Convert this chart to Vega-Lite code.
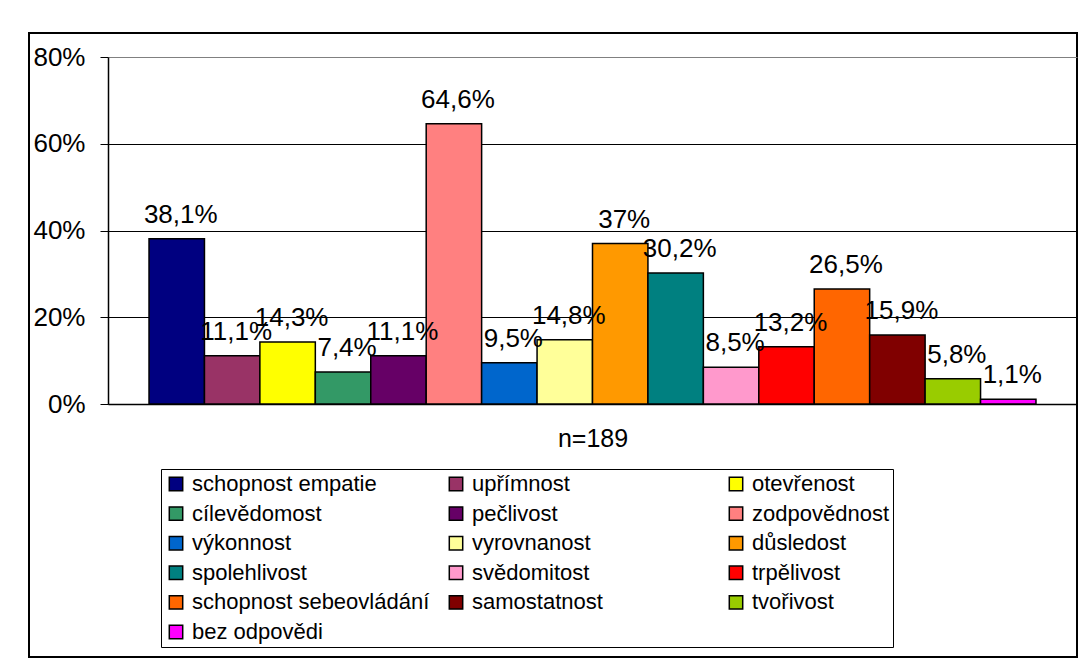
{
  "$schema": "https://vega.github.io/schema/vega-lite/v6.json",
  "width": 1048,
  "height": 624,
  "autosize": {"type": "none"},
  "padding": {"left": 29, "top": 33, "right": 7, "bottom": 14},
  "background": "white",
  "config": {
    "locale": {
      "number": {"decimal": ",", "thousands": " ", "grouping": [3], "currency": ["", " Kč"]}
    },
    "font": "Liberation Sans",
    "view": {"stroke": "black", "strokeWidth": 2, "fill": "white"},
    "legend": {
      "labelFont": "Liberation Sans",
      "labelFontSize": 22,
      "labelColor": "black",
      "labelLimit": 400,
      "labelOffset": 5,
      "symbolType": "square",
      "symbolSize": 180,
      "symbolStrokeColor": "black",
      "symbolStrokeWidth": 1.5,
      "rowPadding": 7.6,
      "columnPadding": 15,
      "padding": 4,
      "gridAlign": "all",
      "strokeColor": "black",
      "strokeWidth": 1,
      "fillColor": "white"
    }
  },
  "data": {
    "values": [
      {"vlastnost": "schopnost empatie", "podil": 0.381},
      {"vlastnost": "upřímnost", "podil": 0.111},
      {"vlastnost": "otevřenost", "podil": 0.143},
      {"vlastnost": "cílevědomost", "podil": 0.074},
      {"vlastnost": "pečlivost", "podil": 0.111},
      {"vlastnost": "zodpovědnost", "podil": 0.646},
      {"vlastnost": "výkonnost", "podil": 0.095},
      {"vlastnost": "vyrovnanost", "podil": 0.148},
      {"vlastnost": "důsledost", "podil": 0.37},
      {"vlastnost": "spolehlivost", "podil": 0.302},
      {"vlastnost": "svědomitost", "podil": 0.085},
      {"vlastnost": "trpělivost", "podil": 0.132},
      {"vlastnost": "schopnost sebeovládání", "podil": 0.265},
      {"vlastnost": "samostatnost", "podil": 0.159},
      {"vlastnost": "tvořivost", "podil": 0.058},
      {"vlastnost": "bez odpovědi", "podil": 0.011}
    ]
  },
  "encoding": {
    "x": {
      "field": "vlastnost",
      "type": "nominal",
      "sort": null,
      "scale": {"range": [79, 1048], "paddingInner": 0, "paddingOuter": 0.74},
      "axis": {
        "title": "n=189",
        "labels": false,
        "ticks": false,
        "offset": -253,
        "domainColor": "black",
        "domainWidth": 1.5,
        "titleFont": "Liberation Sans",
        "titleFontSize": 25,
        "titleFontWeight": "normal",
        "titleColor": "black",
        "titlePadding": 22
      }
    },
    "y": {
      "field": "podil",
      "type": "quantitative",
      "scale": {"domain": [0, 0.8], "range": [371, 24], "nice": false, "zero": true},
      "axis": {
        "title": null,
        "format": ".0%",
        "values": [0, 0.2, 0.4, 0.6, 0.8],
        "offset": -79,
        "domainColor": "black",
        "domainWidth": 1.5,
        "tickColor": "black",
        "tickSize": 8,
        "tickWidth": 1,
        "labelFont": "Liberation Sans",
        "labelFontSize": 26,
        "labelColor": "black",
        "labelPadding": 15,
        "grid": true,
        "gridWidth": 1,
        "gridColor": {"condition": {"test": "datum.value >= 0.8", "value": "#808080"}, "value": "black"}
      }
    }
  },
  "layer": [
    {
      "mark": {"type": "bar", "stroke": "black", "strokeWidth": 1.5},
      "encoding": {
        "color": {
          "field": "vlastnost",
          "type": "nominal",
          "scale": {
            "domain": [
              "schopnost empatie", "upřímnost", "otevřenost", "cílevědomost",
              "pečlivost", "zodpovědnost", "výkonnost", "vyrovnanost",
              "důsledost", "spolehlivost", "svědomitost", "trpělivost",
              "schopnost sebeovládání", "samostatnost", "tvořivost", "bez odpovědi"
            ],
            "range": [
              "#000080", "#993366", "#FFFF00", "#339966",
              "#660066", "#FF8080", "#0066CC", "#FFFF99",
              "#FF9900", "#008080", "#FF99CC", "#FF0000",
              "#FF6600", "#800000", "#99CC00", "#FF00FF"
            ]
          },
          "legend": {
            "orient": "none",
            "direction": "horizontal",
            "legendX": 132,
            "legendY": 436,
            "columns": 3,
            "title": null
          }
        }
      }
    },
    {
      "mark": {
        "type": "text",
        "dy": -16,
        "dx": 4,
        "baseline": "alphabetic",
        "align": "center",
        "font": "Liberation Sans",
        "fontSize": 26,
        "color": "black"
      },
      "encoding": {
        "text": {"field": "podil", "type": "quantitative", "format": ".1~%"}
      }
    }
  ]
}
